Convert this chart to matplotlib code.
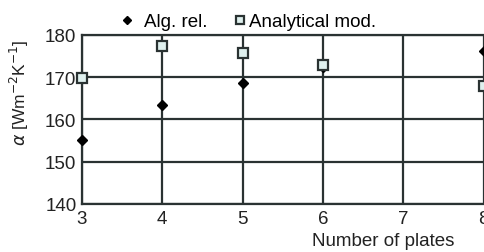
import numpy as np
import matplotlib.pyplot as plt

plt.rcParams['font.family'] = ['Liberation Sans', 'DejaVu Sans']

# data
plates = [3, 4, 5, 6, 8]
alg_rel = [155.2, 163.4, 168.7, 172.4, 176.2]
analytical = [169.8, 177.4, 175.8, 173.0, 168.0]

W, H = 484, 253
fig = plt.figure(figsize=(W / 100, H / 100), dpi=100)
ax = fig.add_axes([82 / W, 1 - 205 / H, (483.5 - 82) / W, (205 - 36) / H])

ax.set_xlim(3, 8)
ax.set_ylim(140, 180)
ax.set_xticks(np.arange(3, 9))
ax.set_yticks(np.arange(140, 181, 10))
ax.grid(True, color='#2a3232', lw=1.6)
ax.set_axisbelow(True)
for s in ax.spines.values():
    s.set_color('#2a3232')
    s.set_linewidth(1.6)
ax.spines['right'].set_visible(False)
ax.tick_params(length=0, labelsize=13.5, pad=4, colors='#222222')

h1, = ax.plot(plates, alg_rel, ls='none', marker='D', ms=5, color='black',
              clip_on=False, zorder=4, label='Alg. rel.')
h2, = ax.plot(plates, analytical, ls='none', marker='s', ms=6.5, mfc='#dff0ee',
              mec='#2a3232', mew=1.6, clip_on=False, zorder=5,
              label='Analytical mod.')

ax.set_ylabel(r'$\alpha$ [Wm$^{-2}$K$^{-1}$]', fontsize=12.5, color='#222222')
ax.yaxis.set_label_coords(-0.128, 0.663)
ax.set_xlabel('Number of plates', fontsize=13.5, color='#222222')
ax.xaxis.set_label_coords(0.75, -0.165)

# two legend entries placed separately (spacing differs in the original)
fig.legend(handles=[h1], loc='upper left', bbox_to_anchor=(103 / W, 1.01),
           frameon=False, fontsize=13.5, handlelength=0.8,
           handletextpad=0.5, markerscale=0.9)
fig.legend(handles=[h2], loc='upper left', bbox_to_anchor=(217.5 / W, 1.01),
           frameon=False, fontsize=13.5, handlelength=0.6,
           handletextpad=0.2, markerscale=0.85)

fig.savefig('out.png', dpi=100)
